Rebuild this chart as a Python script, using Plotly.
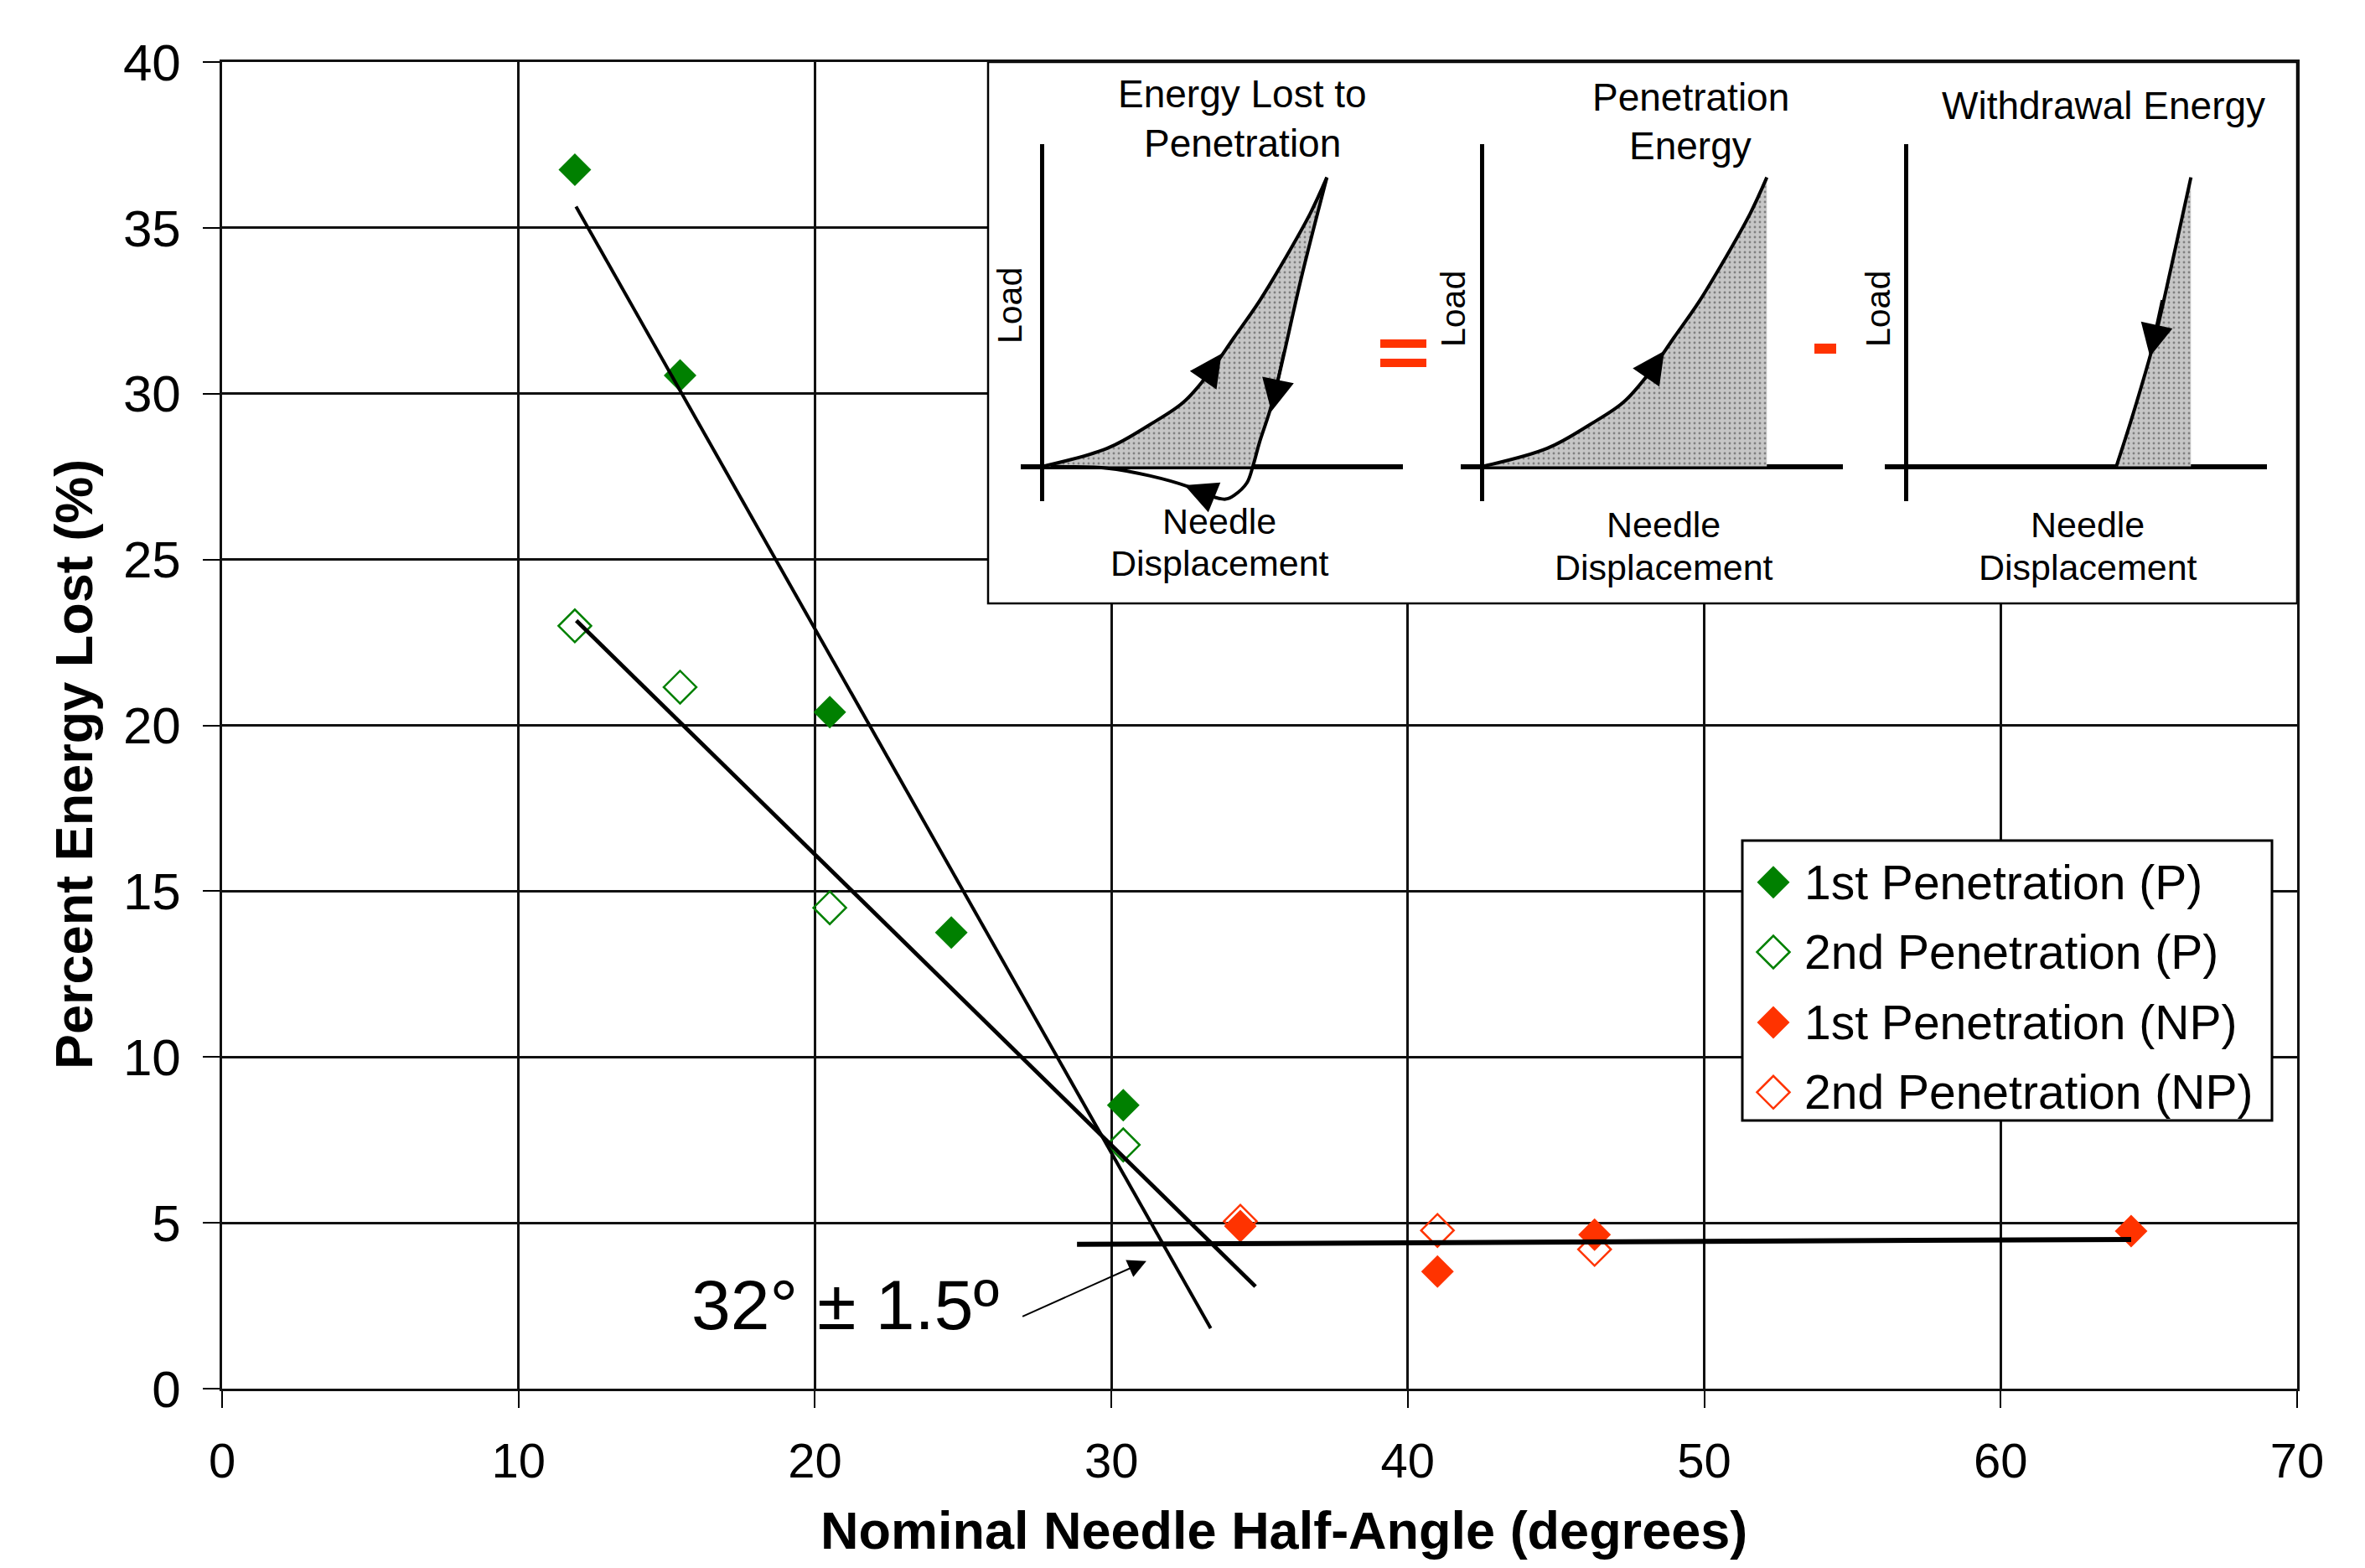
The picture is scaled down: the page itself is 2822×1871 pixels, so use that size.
import plotly.graph_objects as go

# ---------------- data ----------------
series_names = ["1st Penetration (P)", "2nd Penetration (P)",
                "1st Penetration (NP)", "2nd Penetration (NP)"]

p1_angle = [11.9, 15.45, 20.5, 24.6, 30.4]
p1_energy = [36.75, 30.55, 20.4, 13.75, 8.55]
p2_angle = [11.9, 15.45, 20.5, 30.4]
p2_energy = [23.0, 21.15, 14.5, 7.35]
np1_angle = [34.35, 41.0, 46.3, 64.4]
np1_energy = [4.9, 3.53, 4.64, 4.75]
np2_angle = [34.35, 41.0, 46.3]
np2_energy = [5.05, 4.77, 4.2]

# trend lines (end points)
fit_p1_angle = [11.94, 33.35]
fit_p1_energy = [35.64, 1.82]
fit_p2_angle = [11.95, 34.86]
fit_p2_energy = [23.16, 3.08]
fit_np_angle = [28.84, 64.4]
fit_np_energy = [4.35, 4.50]

# intersection call-out
callout_text = "32° ± 1.5º"
callout_tail = (26.96, 2.16)
callout_head = (31.18, 3.85)

x_ticks = [0, 10, 20, 30, 40, 50, 60, 70]
y_ticks = [0, 5, 10, 15, 20, 25, 30, 35, 40]

# inset schematic curves (normalised displacement / load)
loading_disp = [0.0, 0.229, 0.377, 0.496, 0.585, 0.674, 0.763, 0.852, 0.941, 1.0]
loading_load = [0.0, 0.063, 0.144, 0.222, 0.321, 0.446, 0.572, 0.717, 0.874, 1.0]
unload_disp = [1.0, 0.912, 0.808, 0.763, 0.74, 0.719, 0.674, 0.644, 0.585, 0.511, 0.377, 0.229, 0.08, 0.03]
unload_load = [1.0, 0.66, 0.22, 0.082, 0.0, -0.057, -0.10, -0.113, -0.10, -0.069, -0.032, -0.006, -0.001, 0.0]
withdraw_disp = [0.738, 0.797, 0.871, 0.93, 1.0]
withdraw_load = [0.0, 0.182, 0.434, 0.686, 1.0]

# ---------------- styling / layout helpers ----------------
W, H = 2822, 1871
L, R, T, B = 265, 2741, 74, 1657          # plot area in pixels
X_MAX, Y_MAX = 70, 40
GREEN = "#008000"
RED = "#ff3300"
FONT = "Liberation Sans, Arial, sans-serif"


def px_x(px):
    return (px - L) / (R - L) * X_MAX


def px_y(py):
    return (B - py) / (B - T) * Y_MAX


def paper_x(px):
    return (px - L) / (R - L)


def paper_y(py):
    return (B - py) / (B - T)


fig = go.Figure()

# ---------------- main data ----------------
styles = [
    dict(symbol="diamond", size=30, color=GREEN, line=dict(width=0)),
    dict(symbol="diamond-open", size=30, color=GREEN, line=dict(width=2.5, color=GREEN)),
    dict(symbol="diamond", size=30, color=RED, line=dict(width=0)),
    dict(symbol="diamond-open", size=30, color=RED, line=dict(width=2.5, color=RED)),
]
series_x = [p1_angle, p2_angle, np1_angle, np2_angle]
series_y = [p1_energy, p2_energy, np1_energy, np2_energy]

# open markers first, filled on top
for i in [1, 3, 0, 2]:
    fig.add_trace(go.Scatter(x=series_x[i], y=series_y[i], mode="markers",
                             name=series_names[i], marker=styles[i],
                             showlegend=False, cliponaxis=False))

for fx, fy, w in [(fit_p1_angle, fit_p1_energy, 4),
                  (fit_p2_angle, fit_p2_energy, 4.8),
                  (fit_np_angle, fit_np_energy, 6)]:
    fig.add_trace(go.Scatter(x=fx, y=fy, mode="lines",
                             line=dict(color="black", width=w),
                             showlegend=False, hoverinfo="skip"))

# ---------------- manual legend (inside plot) ----------------
legend_box = (2079, 1003, 2711, 1337)
legend_rows = [1052.7, 1136, 1220, 1303.3]
legend_sym_x = 2116
legend_txt_x = 2151
annotations = []
for i, name in enumerate(series_names):
    fig.add_trace(go.Scatter(x=[px_x(legend_sym_x)], y=[px_y(legend_rows[i])],
                             mode="markers", marker=styles[i],
                             showlegend=False, hoverinfo="skip"))
    annotations.append(dict(x=px_x(legend_txt_x), y=px_y(legend_rows[i]), xref="x", yref="y",
                            text=name, showarrow=False, xanchor="left", yanchor="middle",
                            font=dict(family=FONT, size=57, color="black")))

# ---------------- inset panels ----------------
panel_left = [1218, 1743, 2249]
panel_w = 456
panel_top, panel_bot = 172, 598
panel_xrange = [-0.075, 1.267]
panel_yrange = [-0.12, 1.115]
pattern = dict(shape=".", bgcolor="#c6c6c6", fgcolor="#3a3a3a", size=6, solidity=0.18)

layout_axes = {}
for k in range(3):
    n = k + 2
    layout_axes[f"xaxis{n}"] = dict(domain=[paper_x(panel_left[k]), paper_x(panel_left[k] + panel_w)],
                                    range=panel_xrange, anchor=f"y{n}", showgrid=False,
                                    showticklabels=False, ticks="", showline=False,
                                    zeroline=True, zerolinecolor="black", zerolinewidth=4.5,
                                    fixedrange=True)
    layout_axes[f"yaxis{n}"] = dict(domain=[paper_y(panel_bot), paper_y(panel_top)],
                                    range=panel_yrange, anchor=f"x{n}", showgrid=False,
                                    showticklabels=False, ticks="", showline=False,
                                    zeroline=True, zerolinecolor="black", zerolinewidth=5.5,
                                    fixedrange=True)

# panel 1: energy lost (hysteresis)
cross = unload_disp.index(0.74)
fill1_x = loading_disp + unload_disp[1:cross + 1] + [0.0]
fill1_y = loading_load + unload_load[1:cross + 1] + [0.0]
fig.add_trace(go.Scatter(x=fill1_x, y=fill1_y, xaxis="x2", yaxis="y2", mode="lines",
                         fill="toself", fillcolor="#c6c6c6", fillpattern=pattern,
                         line=dict(width=0), showlegend=False, hoverinfo="skip"))
fig.add_trace(go.Scatter(x=loading_disp, y=loading_load, xaxis="x2", yaxis="y2", mode="lines",
                         line=dict(color="black", width=4, shape="spline"), showlegend=False))
fig.add_trace(go.Scatter(x=unload_disp, y=unload_load, xaxis="x2", yaxis="y2", mode="lines",
                         line=dict(color="black", width=4, shape="spline"), showlegend=False))

# panel 2: penetration energy
fig.add_trace(go.Scatter(x=loading_disp + [1.0, 0.0], y=loading_load + [0.0, 0.0],
                         xaxis="x3", yaxis="y3", mode="lines", fill="toself",
                         fillcolor="#c6c6c6", fillpattern=pattern, line=dict(width=0),
                         showlegend=False, hoverinfo="skip"))
fig.add_trace(go.Scatter(x=loading_disp, y=loading_load, xaxis="x3", yaxis="y3", mode="lines",
                         line=dict(color="black", width=4, shape="spline"), showlegend=False))

# panel 3: withdrawal energy
fig.add_trace(go.Scatter(x=withdraw_disp + [1.0], y=withdraw_load + [0.0],
                         xaxis="x4", yaxis="y4", mode="lines", fill="toself",
                         fillcolor="#c6c6c6", fillpattern=pattern, line=dict(width=0),
                         showlegend=False, hoverinfo="skip"))
fig.add_trace(go.Scatter(x=withdraw_disp, y=withdraw_load, xaxis="x4", yaxis="y4", mode="lines",
                         line=dict(color="black", width=4, shape="spline"), showlegend=False))

# arrows on the schematic curves (head, tail)
inset_arrows = [
    ("x2", "y2", (0.63, 0.39), (0.56, 0.29)),
    ("x2", "y2", (0.805, 0.19), (0.85, 0.40)),
    ("x2", "y2", (0.50, -0.065), (0.60, -0.105)),
    ("x3", "y3", (0.64, 0.40), (0.57, 0.30)),
    ("x4", "y4", (0.856, 0.38), (0.90, 0.58)),
]
for xr, yr, head, tail in inset_arrows:
    annotations.append(dict(x=head[0], y=head[1], ax=tail[0], ay=tail[1], xref=xr, yref=yr,
                            axref=xr, ayref=yr, text="", showarrow=True, arrowhead=2,
                            arrowsize=2.2, arrowwidth=3.5, arrowcolor="black", standoff=0))


def ann_px(text, px, py, size, angle=0, color="black"):
    return dict(x=paper_x(px), y=paper_y(py), xref="paper", yref="paper", text=text,
                showarrow=False, xanchor="center", yanchor="middle", textangle=angle,
                font=dict(family=FONT, size=size, color=color))


inset_texts = [
    ("Energy Lost to", 1482, 112, 46), ("Penetration", 1482, 171, 46),
    ("Penetration", 2017, 116, 46), ("Energy", 2017, 174, 46),
    ("Withdrawal Energy", 2510, 126, 46),
    ("Needle", 1455, 622, 43), ("Displacement", 1455, 672, 43),
    ("Needle", 1985, 626, 43), ("Displacement", 1985, 677, 43),
    ("Needle", 2491, 626, 43), ("Displacement", 2491, 677, 43),
]
for t, px, py, s in inset_texts:
    annotations.append(ann_px(t, px, py, s))
for px, py in [(1205, 365), (1734, 369), (2241, 369)]:
    annotations.append(ann_px("Load", px, py, 41, angle=-90))

# axis titles
annotations.append(ann_px("<b>Percent Energy Lost (%)</b>", 88, 912, 63, angle=-90))
annotations.append(ann_px("<b>Nominal Needle Half-Angle (degrees)</b>", 1532, 1826, 63))

# call-out
annotations.append(dict(x=px_x(823), y=px_y(1557), xref="x", yref="y", text=callout_text,
                        showarrow=False, xanchor="left", yanchor="middle",
                        font=dict(family=FONT, size=84, color="black")))
annotations.append(dict(x=callout_head[0], y=callout_head[1], ax=callout_tail[0], ay=callout_tail[1],
                        xref="x", yref="y", axref="x", ayref="y", text="", showarrow=True,
                        arrowhead=2, arrowsize=2.2, arrowwidth=2, arrowcolor="black", standoff=0))

shapes = [
    # inset frame (covers the grid, below the data)
    dict(type="rect", xref="x", yref="y", x0=px_x(1179), x1=X_MAX, y0=px_y(720), y1=Y_MAX,
         fillcolor="white", line=dict(color="black", width=2.5), layer="between"),
    # legend frame
    dict(type="rect", xref="x", yref="y", x0=px_x(legend_box[0]), x1=px_x(legend_box[2]),
         y0=px_y(legend_box[3]), y1=px_y(legend_box[1]),
         fillcolor="white", line=dict(color="black", width=3), layer="between"),
    # red "=" and "-" signs
    dict(type="rect", xref="paper", yref="paper", x0=paper_x(1647), x1=paper_x(1702),
         y0=paper_y(415), y1=paper_y(405), fillcolor=RED, line=dict(width=0), layer="above"),
    dict(type="rect", xref="paper", yref="paper", x0=paper_x(1647), x1=paper_x(1702),
         y0=paper_y(438), y1=paper_y(428), fillcolor=RED, line=dict(width=0), layer="above"),
    dict(type="rect", xref="paper", yref="paper", x0=paper_x(2165), x1=paper_x(2191),
         y0=paper_y(422), y1=paper_y(410), fillcolor=RED, line=dict(width=0), layer="above"),
]

fig.update_layout(
    width=W, height=H,
    margin=dict(l=L, r=W - R, t=T, b=H - B, pad=0),
    paper_bgcolor="white", plot_bgcolor="white",
    showlegend=False,
    font=dict(family=FONT, color="black"),
    xaxis=dict(range=[0, X_MAX], tickvals=x_ticks, ticktext=[str(v) for v in x_ticks],
               showgrid=True, gridcolor="#111111", gridwidth=2.5,
               showline=True, linecolor="#111111", linewidth=2.5, mirror=True,
               ticks="outside", ticklen=20, tickwidth=2, tickcolor="black",
               tickfont=dict(family=FONT, size=58), ticklabelstandoff=14,
               zeroline=False, fixedrange=True),
    yaxis=dict(range=[0, Y_MAX], tickvals=y_ticks, ticktext=[str(v) for v in y_ticks],
               showgrid=True, gridcolor="#111111", gridwidth=2.5,
               showline=True, linecolor="#111111", linewidth=2.5, mirror=True,
               ticks="outside", ticklen=20, tickwidth=2, tickcolor="black",
               tickfont=dict(family=FONT, size=62), ticklabelstandoff=14,
               zeroline=False, fixedrange=True),
    annotations=annotations,
    shapes=shapes,
    **layout_axes,
)

fig.write_html("out.html")
